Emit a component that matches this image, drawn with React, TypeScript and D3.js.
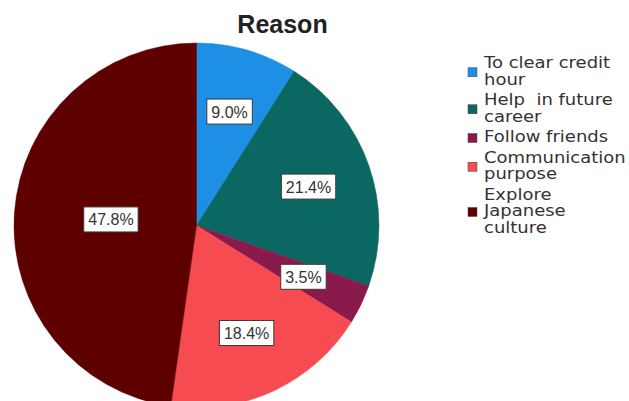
import React from "react";
import * as d3 from "d3";

const categories = [
  "To clear credit hour",
  "Help  in future career",
  "Follow friends",
  "Communication purpose",
  "Explore Japanese culture",
];
const legendLines = [
  ["To clear credit", "hour"],
  ["Help  in future", "career"],
  ["Follow friends"],
  ["Communication", "purpose"],
  ["Explore", "Japanese", "culture"],
];
const percents = [9.0, 21.4, 3.5, 18.4, 47.8];
const colors = ["#1d8fe4", "#0b6762", "#8a1a4c", "#f64b50", "#5e0000"];
const title = "Reason";

const W = 629;
const H = 401;
const cx = 196.5;
const cy = 225.5;
const R = 182.5;

function measure(text: string, font: string): number {
  const c = document.createElement("canvas");
  const ctx = c.getContext("2d");
  if (!ctx) return text.length * 9;
  ctx.font = font;
  return ctx.measureText(text).width;
}

export default function App() {
  const data = categories.map((c, i) => ({ name: c, value: percents[i], color: colors[i] }));
  const pie = d3
    .pie<any>()
    .sort(null)
    .value((d: any) => d.value)
    .startAngle(0)
    .endAngle(2 * Math.PI);
  const arcs = pie(data);
  const arcGen = d3.arc<any>().innerRadius(0).outerRadius(R);

  const labelFont = "16px 'Liberation Sans', Arial, sans-serif";

  // legend layout
  const legendX = 468;
  const textX = 484;
  const lineH = 16.5;
  const itemGap = 4;
  let baseline = 68;
  const legendItems = legendLines.map((lines, i) => {
    const first = baseline;
    const ys = lines.map((_, j) => first + j * lineH);
    baseline = first + lines.length * lineH + itemGap;
    const mid = (ys[0] + ys[ys.length - 1]) / 2;
    return { lines, ys, squareY: mid - 4, color: colors[i] };
  });

  return (
    <svg
      width={W}
      height={H}
      style={{ position: "absolute", left: 0, top: 0, background: "#fff" }}
    >
      <text
        x={282.5}
        y={33}
        textAnchor="middle"
        fontFamily="'Liberation Sans', Arial, sans-serif"
        fontWeight="bold"
        fontSize={25}
        fill="#222"
      >
        {title}
      </text>
      <g transform={`translate(${cx},${cy})`}>
        {arcs.map((a, i) => (
          <path key={i} d={arcGen(a) || ""} fill={a.data.color} stroke={a.data.color} strokeWidth={0.5} />
        ))}
        {arcs.map((a, i) => {
          const frac = (a.endAngle - a.startAngle) / (2 * Math.PI);
          const lr = frac > 0.4 ? R * 0.47 : R * 0.65;
          const [x, y] = d3.arc<any>().innerRadius(lr).outerRadius(lr).centroid(a);
          const label = `${a.data.value.toFixed(1)}%`;
          const tw = measure(label, labelFont);
          const bw = tw + 9;
          const bh = 25;
          return (
            <g key={"l" + i} transform={`translate(${x},${y})`}>
              <rect
                x={-bw / 2}
                y={-bh / 2}
                width={bw}
                height={bh}
                fill="#fff"
                stroke="#3a3a3a"
                strokeWidth={1}
              />
              <text
                x={0}
                y={6}
                textAnchor="middle"
                fontFamily="'Liberation Sans', Arial, sans-serif"
                fontSize={16}
                fill="#333"
              >
                {label}
              </text>
            </g>
          );
        })}
      </g>
      <g>
        {legendItems.map((it, i) => (
          <g key={i}>
            <rect
              x={legendX}
              y={it.squareY - 4.5}
              width={9}
              height={9}
              fill={it.color}
              stroke="#444"
              strokeWidth={0.5}
            />
            {it.lines.map((ln, j) => (
              <text
                key={j}
                transform={`translate(${textX},${it.ys[j]}) scale(1.2,1)`}
                fontFamily="'DejaVu Sans', sans-serif"
                fontSize={15}
                fill="#333"
                style={{ whiteSpace: "pre" }}
              >
                {ln}
              </text>
            ))}
          </g>
        ))}
      </g>
    </svg>
  );
}
